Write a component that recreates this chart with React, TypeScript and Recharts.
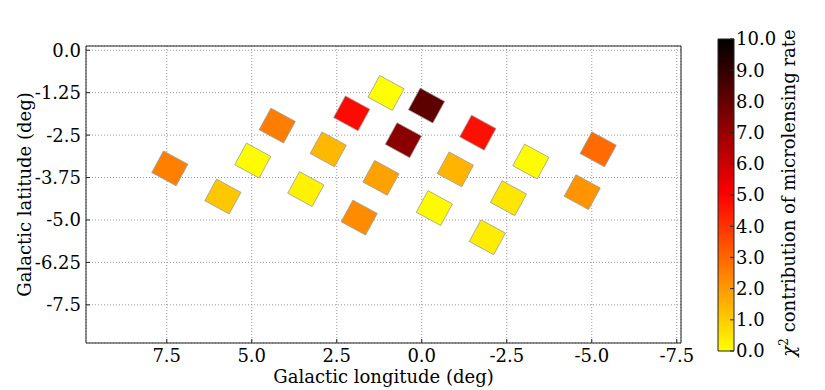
import React from 'react';
import {
  ScatterChart,
  Scatter,
  XAxis,
  YAxis,
  CartesianGrid,
  ComposedChart,
  ReferenceArea,
} from 'recharts';

// ---- data ----
const fieldLongitude = [7.41, 5.85, 4.97, 4.25, 3.41, 2.75, 2.06, 1.05, 1.2, 1.84, 0.54, -0.14, -1.65, -0.99, -3.21, -5.19, -4.72, -2.55, -0.37, -1.93];
const fieldLatitude = [-3.48, -4.31, -3.25, -2.22, -4.09, -2.92, -1.86, -1.26, -3.76, -4.93, -2.65, -1.63, -2.43, -3.51, -3.28, -2.92, -4.18, -4.36, -4.65, -5.51];
const chi2Contribution = [2.5, 1.1, 0.05, 2.55, 0.25, 1.4, 4.8, 0.0, 1.85, 2.25, 7.3, 8.2, 4.7, 1.45, 0.05, 2.9, 2.1, 0.5, 0.1, 0.35];

const longitudeTicks = [7.5, 5, 2.5, 0, -2.5, -5, -7.5];
const latitudeTicks = [0, -1.25, -2.5, -3.75, -5, -6.25, -7.5];
const colorbarTicks = [0, 1, 2, 3, 4, 5, 6, 7, 8, 9, 10];
const longitudeDomain = [-7.625, 9.875];
const latitudeDomain = [-8.625, 0.125];
const colorbarDomain = [0, 10];

const fields = fieldLongitude.map((l, i) => ({ l, b: fieldLatitude[i], v: chi2Contribution[i] }));
const colorbarData = colorbarTicks.map((v) => ({ x: 0.5, v }));

// ---- styles ----
const FONT = '"DejaVu Serif", serif';
const FS = 18;
const SPINE = '#222';
const FIELD_W = 27.8;
const FIELD_H = 24.6;
const FIELD_ANGLE = 28.6;

function hotColor(value: number): string {
  const t = Math.max(0, Math.min(10, value));
  if (t <= 5) {
    const g = Math.round(255 * (1 - t / 5));
    return `rgb(255,${g},0)`;
  }
  const r = Math.round(255 * (1 - (t - 5) / 5));
  return `rgb(${r},0,0)`;
}

const fmtX = (v: number) => v.toFixed(1);
const fmtY = (v: number) => {
  const s = String(v);
  return s.includes('.') ? s : v.toFixed(1);
};

const FieldShape = (props: any) => {
  const { cx, cy, payload } = props;
  if (cx == null || cy == null) return null;
  return (
    <rect
      x={cx - FIELD_W / 2}
      y={cy - FIELD_H / 2}
      width={FIELD_W}
      height={FIELD_H}
      transform={`rotate(${FIELD_ANGLE} ${cx} ${cy})`}
      fill={hotColor(payload.v)}
      stroke="#9a9a9a"
      strokeWidth={0.7}
    />
  );
};

const XTick = (props: any) => {
  const { x, y, payload } = props;
  return (
    <g>
      <line x1={x} x2={x} y1={y} y2={y - 4} stroke={SPINE} />
      <text x={x} y={y + 18.7} textAnchor="middle" fontFamily={FONT} fontSize={FS} fill="#000">
        {fmtX(payload.value)}
      </text>
    </g>
  );
};

const YTick = (props: any) => {
  const { x, y, payload } = props;
  return (
    <g>
      <line x1={x} x2={x + 4} y1={y} y2={y} stroke={SPINE} />
      <text x={x - 5} y={y} dy="0.36em" textAnchor="end" fontFamily={FONT} fontSize={FS} fill="#000">
        {fmtY(payload.value)}
      </text>
    </g>
  );
};

const CbTick = (props: any) => {
  const { x, y, payload } = props;
  return (
    <g>
      <line x1={x - 4} x2={x} y1={y} y2={y} stroke={SPINE} />
      <text x={x + 2} y={y} dy="0.36em" textAnchor="start" fontFamily={FONT} fontSize={FS} fill="#000">
        {payload.value.toFixed(1)}
      </text>
    </g>
  );
};

const XTitle = (props: any) => {
  const vb = props.viewBox || { x: 86, y: 343, width: 595, height: 47 };
  return (
    <text x={vb.x + vb.width / 2} y={vb.y + 39.7} textAnchor="middle" fontFamily={FONT} fontSize={FS} fill="#000">
      Galactic longitude (deg)
    </text>
  );
};

const YTitle = (props: any) => {
  const vb = props.viewBox || { x: 0, y: 46, width: 86, height: 297 };
  const tx = vb.x + 31;
  const ty = vb.y + vb.height / 2;
  return (
    <text
      x={tx}
      y={ty}
      transform={`rotate(-90 ${tx} ${ty})`}
      textAnchor="middle"
      fontFamily={FONT}
      fontSize={FS}
      fill="#000"
    >
      Galactic latitude (deg)
    </text>
  );
};

export default function App() {
  return (
    <div style={{ position: 'absolute', left: 0, top: 0, width: 825, height: 390, background: '#fff' }}>
      <svg width={825} height={390} style={{ position: 'absolute', left: 0, top: 0 }}>
        <defs>
          <linearGradient id="cbGrad" x1="0" y1="0" x2="0" y2="1">
            <stop offset="0" stopColor="#000000" />
            <stop offset="0.5" stopColor="#ff0000" />
            <stop offset="1" stopColor="#ffff00" />
          </linearGradient>
        </defs>
        <text
          x={795}
          y={193}
          transform="rotate(-90 795 193)"
          textAnchor="middle"
          fontFamily={FONT}
          fontSize={FS}
          fill="#000"
        >
          <tspan fontStyle="italic">χ</tspan>
          <tspan dy={-7} fontSize={12}>2</tspan>
          <tspan dy={7}> contribution of microlensing rate</tspan>
        </text>
      </svg>

      <div style={{ position: 'absolute', left: 0, top: 0 }}>
        <ScatterChart width={825} height={390} margin={{ top: 46, right: 144, bottom: 0, left: 0 }}>
          <CartesianGrid stroke="#9a9a9a" strokeDasharray="1 2" />
          <XAxis
            dataKey="l"
            type="number"
            domain={longitudeDomain}
            reversed
            allowDataOverflow
            ticks={longitudeTicks}
            interval={0}
            height={47}
            tickSize={0}
            tickMargin={0}
            tickLine={false}
            axisLine={{ stroke: SPINE }}
            tick={<XTick />}
            label={{ content: XTitle }}
          />
          <YAxis
            dataKey="b"
            type="number"
            domain={latitudeDomain}
            allowDataOverflow
            ticks={latitudeTicks}
            interval={0}
            width={86}
            tickSize={0}
            tickMargin={0}
            tickLine={false}
            axisLine={{ stroke: SPINE }}
            tick={<YTick />}
            label={{ content: YTitle }}
          />
          <XAxis
            xAxisId="top"
            orientation="top"
            type="number"
            domain={longitudeDomain}
            reversed
            allowDataOverflow
            ticks={longitudeTicks}
            interval={0}
            mirror
            tick={false}
            tickSize={4}
            tickLine={{ stroke: SPINE }}
            axisLine={{ stroke: SPINE }}
          />
          <YAxis
            yAxisId="right"
            orientation="right"
            type="number"
            domain={latitudeDomain}
            allowDataOverflow
            ticks={latitudeTicks}
            interval={0}
            mirror
            tick={false}
            tickSize={4}
            tickLine={{ stroke: SPINE }}
            axisLine={{ stroke: SPINE }}
          />
          <Scatter data={fields} shape={FieldShape} isAnimationActive={false} />
        </ScatterChart>
      </div>

      <div style={{ position: 'absolute', left: 700, top: 0 }}>
        <ComposedChart width={125} height={390} data={colorbarData} margin={{ top: 39, right: 0, bottom: 39, left: 18 }}>
          <XAxis dataKey="x" type="number" domain={[0, 1]} hide allowDataOverflow />
          <YAxis
            dataKey="v"
            type="number"
            orientation="right"
            domain={colorbarDomain}
            allowDataOverflow
            ticks={colorbarTicks}
            interval={0}
            width={91}
            tickSize={0}
            tickMargin={0}
            tickLine={false}
            axisLine={false}
            tick={<CbTick />}
          />
          <ReferenceArea x1={0} x2={1} y1={0} y2={10} fill="url(#cbGrad)" fillOpacity={1} stroke={SPINE} strokeWidth={1} />
        </ComposedChart>
      </div>
    </div>
  );
}
